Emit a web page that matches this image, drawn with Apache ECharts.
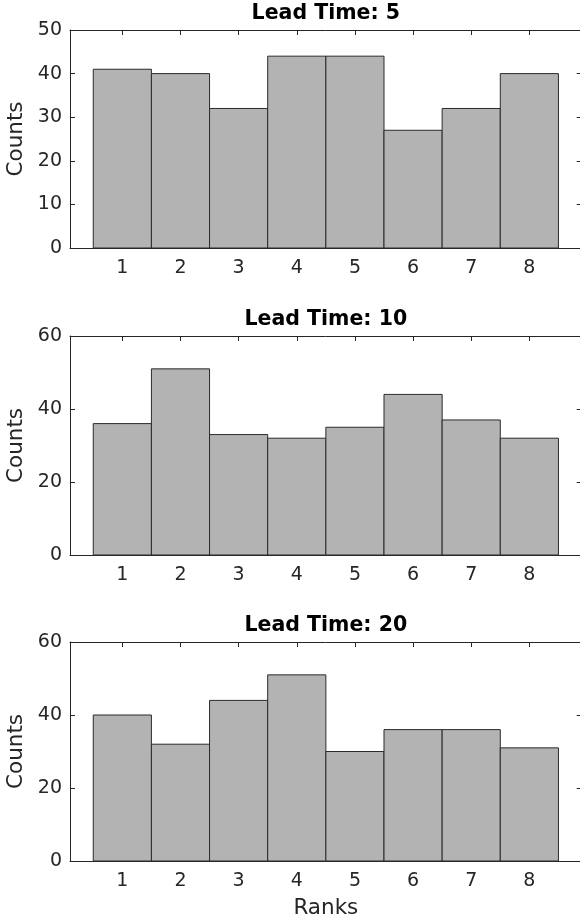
<!DOCTYPE html>
<html>
<head>
<meta charset="utf-8">
<script src="https://cdn.jsdelivr.net/npm/echarts@6/dist/echarts.min.js"></script>
<style>
html,body{margin:0;padding:0;background:#fff;}
#chart{width:580px;height:921px;}
</style>
</head>
<body>
<div id="chart"></div>
<script>
// ---- data ----
const ranks = [1, 2, 3, 4, 5, 6, 7, 8];
const titles = ['Lead Time: 5', 'Lead Time: 10', 'Lead Time: 20'];
const lead5 = [41, 40, 32, 44, 44, 27, 32, 40];
const lead10 = [36, 51, 33, 32, 35, 44, 37, 32];
const lead20 = [40, 32, 44, 51, 30, 36, 36, 31];
const yMaxes = [50, 60, 60];
const yIntervals = [10, 20, 20];
const xLabel = 'Ranks';
const yLabel = 'Counts';

const allCounts = [lead5, lead10, lead20];
const FONT = 'DejaVu Sans';
const AX = '#262626';

const grids = [
  {left: 70, width: 511.7, top: 30, height: 218, outerBoundsMode: 'none', containLabel: false},
  {left: 70, width: 511.7, top: 336, height: 219, outerBoundsMode: 'none', containLabel: false},
  {left: 70, width: 511.7, top: 642, height: 219, outerBoundsMode: 'none', containLabel: false}
];

const xAxes = [], yAxes = [], series = [];
allCounts.forEach((counts, i) => {
  const common = {
    type: 'value', gridIndex: i, min: 0.1, max: 8.9,
    axisLine: {show: true, onZero: false, lineStyle: {color: AX, width: 1}},
    axisTick: {show: true, inside: true, length: 5, customValues: ranks, lineStyle: {color: AX}},
    splitLine: {show: false}
  };
  xAxes.push(Object.assign({}, common, {
    position: 'bottom',
    axisLabel: {show: true, customValues: ranks, margin: 11, color: AX, fontFamily: FONT, fontSize: 19},
    name: i === 2 ? xLabel : '',
    nameLocation: 'middle', nameGap: 36,
    nameTextStyle: {color: AX, fontFamily: FONT, fontSize: 21.5}
  }));
  xAxes.push(Object.assign({}, common, {
    position: 'top',
    axisLabel: {show: false},
    name: titles[i],
    nameLocation: 'middle', nameGap: 6,
    nameTextStyle: {color: '#000', fontFamily: FONT, fontSize: 20.5, fontWeight: 'bold'}
  }));
  const ycommon = {
    type: 'value', gridIndex: i, min: 0, max: yMaxes[i], interval: yIntervals[i],
    axisLine: {show: true, onZero: false, lineStyle: {color: AX, width: 1}},
    axisTick: {show: true, inside: true, length: 5, lineStyle: {color: AX}},
    splitLine: {show: false}
  };
  yAxes.push(Object.assign({}, ycommon, {
    position: 'left',
    axisLabel: {show: true, margin: 8, color: AX, fontFamily: FONT, fontSize: 19},
    name: yLabel, nameLocation: 'middle', nameGap: 40,
    nameTextStyle: {color: AX, fontFamily: FONT, fontSize: 21.5}
  }));
  yAxes.push(Object.assign({}, ycommon, {
    position: 'right',
    axisLabel: {show: false}
  }));
  series.push({
    type: 'custom',
    xAxisIndex: i * 2,
    yAxisIndex: i * 2,
    data: ranks.map((r, k) => [r, counts[k]]),
    renderItem: function (params, api) {
      const x = api.value(0), y = api.value(1);
      const p0 = api.coord([x - 0.5, y]);
      const p1 = api.coord([x + 0.5, 0]);
      return {
        type: 'rect',
        shape: {x: p0[0], y: p0[1], width: p1[0] - p0[0], height: p1[1] - p0[1]},
        style: {fill: '#b3b3b3', stroke: '#2b2b2b', lineWidth: 1}
      };
    },
    z: 1
  });
});

const chart = echarts.init(document.getElementById('chart'), null, {renderer: 'canvas'});
chart.setOption({
  animation: false,
  backgroundColor: '#fff',
  grid: grids,
  xAxis: xAxes,
  yAxis: yAxes,
  series: series
});
</script>
</body>
</html>
